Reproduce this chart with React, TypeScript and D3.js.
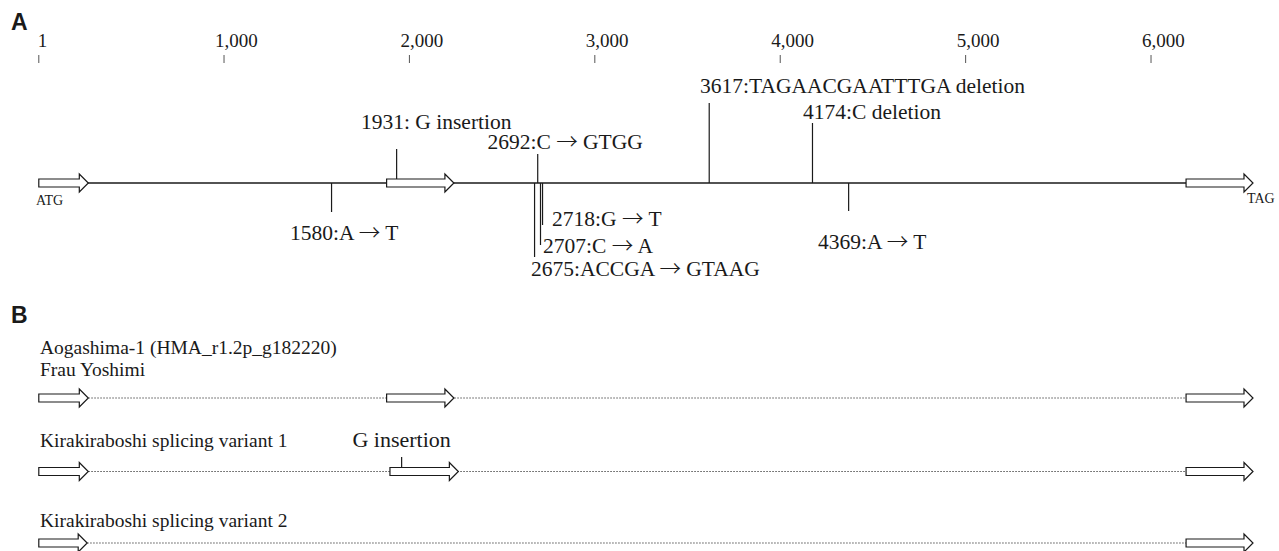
import React, { useEffect } from 'react'
import * as d3 from 'd3'

// gene length and exon coordinates (bp)
const geneStart = 1
const geneEnd = 6550
const tickValues = [1, 1000, 2000, 3000, 4000, 5000, 6000]
const exonStarts = [1, 1877, 6189]
const exonEnds = [268, 2240, 6550]

// panel A mutations
const mutationPos = [1580, 1931, 2675, 2692, 2707, 2718, 3617, 4174, 4369]
const mutationLabels = [
  '1580:A → T',
  '1931: G insertion',
  '2675:ACCGA → GTAAG',
  '2692:C → GTGG',
  '2707:C → A',
  '2718:G → T',
  '3617:TAGAACGAATTTGA deletion',
  '4174:C deletion',
  '4369:A → T',
]

// panel B transcripts
const trackNames = [
  ['Aogashima-1 (HMA_r1.2p_g182220)', 'Frau Yoshimi'],
  ['Kirakiraboshi splicing variant 1'],
  ['Kirakiraboshi splicing variant 2'],
]
const trackExonStarts = [[1, 1877, 6189], [1, 1895, 6189], [1, 6189]]
const trackExonEnds = [[268, 2240, 6550], [268, 2264, 6550], [262, 6550]]
const trackInsertPos = [null, 1958, null]
const trackInsertLabel = [null, 'G insertion', null]

// hand placed label layout for panel A (lineEnd y, label baseline y, label x)
const mutLayout = [
  { end: 212, base: 240, lx: 290 },
  { end: 149, base: 129, lx: 361 },
  { end: 257, base: 276, lx: 531 },
  { end: 154, base: 149, lx: 487.5 },
  { end: 245, base: 253, lx: 543 },
  { end: 225, base: 226, lx: 552 },
  { end: 103, base: 93, lx: 700 },
  { end: 123, base: 119, lx: 803 },
  { end: 211, base: 249, lx: 818 },
]

const serif = '"Liberation Serif", "Times New Roman", serif'
const sans = '"Liberation Sans", Arial, sans-serif'
const arrowFont = '"Noto Sans CJK JP", "DejaVu Serif", serif'
const ink = '#1a1a1a'

const x = d3.scaleLinear().domain([geneStart, geneEnd]).range([38.8, 1253])

function exonPath(x0: number, x1: number, y: number) {
  const head = 9
  const p = d3.path()
  p.moveTo(x0, y - 4)
  p.lineTo(x1 - head, y - 4)
  p.lineTo(x1 - head, y - 9)
  p.lineTo(x1, y)
  p.lineTo(x1 - head, y + 9)
  p.lineTo(x1 - head, y + 4)
  p.lineTo(x0, y + 4)
  p.closePath()
  return p.toString()
}

// split a label so the arrow glyph gets a font that draws a long arrow
function labelSpans(s: string) {
  const parts = s.split('→')
  if (parts.length === 1) return s
  return [
    <tspan key="a">{parts[0]}</tspan>,
    <tspan key="b" fontFamily={arrowFont} fontWeight={300}>→</tspan>,
    <tspan key="c">{parts[1]}</tspan>,
  ]
}

export default function App() {
  useEffect(() => {
    document.body.style.margin = '0'
  }, [])

  const lineY = 183
  const rowY = [398, 471.5, 543]
  const labelY = [354, 447, 527]

  return (
    <svg width={1279} height={551} style={{ display: 'block', background: '#fff' }}>
      {/* panel letters */}
      <text x={11} y={30} fontFamily={sans} fontWeight="bold" fontSize={23} fill={ink}>A</text>
      <text x={11} y={323} fontFamily={sans} fontWeight="bold" fontSize={23} fill={ink}>B</text>

      {/* scale ticks */}
      {tickValues.map(t => (
        <g key={t}>
          <line x1={x(t)} x2={x(t)} y1={55} y2={63} stroke="#555" strokeWidth={1} />
          <text x={x(t) - (t >= 1000 ? 9 : 1)} y={47} fontFamily={serif} fontSize={19} fill={ink}>
            {t === 1 ? '1' : d3.format(',')(t)}
          </text>
        </g>
      ))}

      {/* panel A gene */}
      <line x1={x(geneStart)} x2={x(exonStarts[2])} y1={lineY} y2={lineY} stroke={ink} strokeWidth={1.3} />
      {mutationPos.map((m, i) => {
        const L = mutLayout[i]
        return (
          <g key={m}>
            <line x1={x(m)} x2={x(m)} y1={lineY} y2={L.end} stroke={ink} strokeWidth={1.2} />
            <text x={L.lx} y={L.base} fontFamily={serif} fontSize={21.5} fill={ink}>{labelSpans(mutationLabels[i])}</text>
          </g>
        )
      })}
      {exonStarts.map((s, i) => (
        <path key={s} d={exonPath(x(s), x(exonEnds[i]), lineY)} fill="#fff" stroke={ink} strokeWidth={1.2} />
      ))}
      <text x={36} y={205} fontFamily={serif} fontSize={14} fill={ink}>ATG</text>
      <text x={1247} y={203} fontFamily={serif} fontSize={14} fill={ink}>TAG</text>

      {/* panel B transcripts */}
      {trackNames.map((names, r) => {
        const starts = trackExonStarts[r]
        const ends = trackExonEnds[r]
        const y = rowY[r]
        const ins = trackInsertPos[r]
        return (
          <g key={r}>
            {names.map((n, k) => (
              <text key={n} x={40} y={labelY[r] + k * 21.5} fontFamily={serif} fontSize={19.5} fill={ink}>{n}</text>
            ))}
            <line x1={x(ends[0])} x2={x(starts[starts.length - 1])} y1={y} y2={y}
              stroke="#555" strokeWidth={1.2} strokeDasharray="1.5 1.5" />
            {starts.map((s, i) => (
              <path key={s} d={exonPath(x(s), x(ends[i]), y)} fill="#fff" stroke={ink} strokeWidth={1.2} />
            ))}
            {ins !== null && (
              <g>
                <line x1={x(ins)} x2={x(ins)} y1={457} y2={y - 4} stroke={ink} strokeWidth={1.2} />
                <text x={x(ins)} y={447} textAnchor="middle" fontFamily={serif} fontSize={22} fill={ink}>
                  {trackInsertLabel[r]}
                </text>
              </g>
            )}
          </g>
        )
      })}
    </svg>
  )
}
